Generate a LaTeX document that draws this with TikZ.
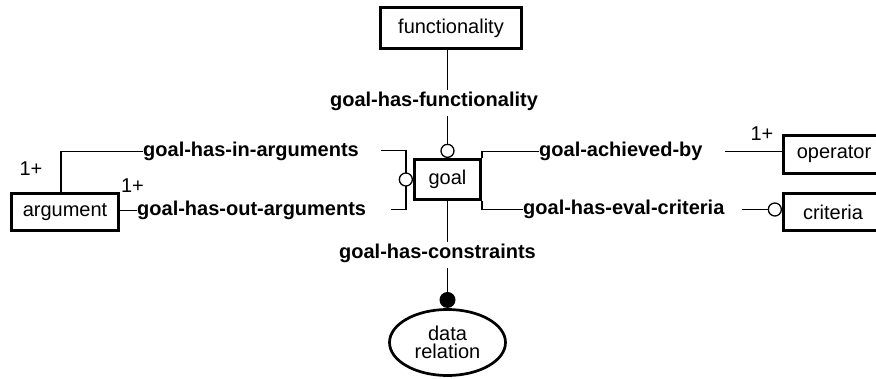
\documentclass[tikz,border=0pt]{standalone}
\usepackage{fontspec}
\setmainfont{Liberation Sans}
\usetikzlibrary{shapes.geometric,calc}
\begin{document}
\begin{tikzpicture}[x=1pt,y=-1pt,
  ent/.style={draw, line width=3pt, inner sep=0pt, font=\fontsize{20}{18}\selectfont},
  rel/.style={inner sep=0pt, font=\bfseries\fontsize{20}{24}\selectfont},
  card/.style={inner sep=0pt, font=\fontsize{20}{24}\selectfont},
  conn/.style={line width=1.3pt},
  opt/.style={draw, fill=white, line width=1.3pt, circle, minimum size=13pt, inner sep=0pt},
  req/.style={fill=black, circle, minimum size=16pt, inner sep=0pt}]
\useasboundingbox (0,0) rectangle (876,379);
\clip (0,0) rectangle (876,379);
% entities
\node[ent, minimum width=141, minimum height=41] (func) at (451,28) {functionality};
\node[ent, minimum width=66, minimum height=40] (goal) at (447.5,179.5) {goal};
\node[ent, minimum width=107, minimum height=37] (argument) at (65,212) {argument};
\node[ent, minimum width=101, minimum height=38] (operator) at (834,154.5) {operator};
\node[ent, minimum width=99, minimum height=37] (criteria) at (833,212) {criteria};
\node[ent, ellipse, line width=2.7pt, minimum width=116, minimum height=66, align=center] (data) at (447.5,342.5) {data\\relation};
% relation labels
\node[rel] (lfunc) at (434,101.7) {goal-has-functionality};
\node[rel] (lcons) at (437.5,253.3) {goal-has-constraints};
\node[rel, anchor=west] (lin) at (143,151.5) {goal-has-in-arguments};
\node[rel, anchor=west] (lout) at (137,210.5) {goal-has-out-arguments};
\node[rel, anchor=west] (lach) at (539,151.5) {goal-achieved-by};
\node[rel, anchor=west] (leval) at (523,209.5) {goal-has-eval-criteria};
% cardinalities
\node[card] (c1) at (31,168.5) {1+};
\node[card] (c2) at (132.5,185.5) {1+};
\node[card] (c3) at (762,134) {1+};
% free ends
\coordinate (bt) at (381,150.5);
\coordinate (bb) at (391,209.5);
\coordinate (opl) at (725,151.5);
\coordinate (crl) at (742,209.5);
% circles
\node[opt, anchor=south] (ctop) at (goal.north) {};
\node[req, anchor=south] (dot) at (data.north) {};
% connectors
\draw[conn] (func.south -| goal.north) -- ($(lfunc.north -| goal.north)+(0,-2)$);
\draw[conn] ($(lfunc.south -| goal.north)+(0,5)$) -- (ctop.north);
\draw[conn] (goal.south) -- ($(lcons.north -| goal.south)+(0,-2)$);
\draw[conn] ($(lcons.south -| goal.south)+(0,5)$) -- (dot.north);
\draw[conn] ([xshift=-4pt]argument.north) |- (lin.west);
\draw[conn] (argument.east |- lout) -- (lout.west);
\coordinate (cl) at ($(goal.west)+(-7,0)$);
\draw[conn] (bt) -- (bt -| cl) -- (bb -| cl) -- (bb);
\node[opt, anchor=east] (cleft) at (goal.west) {};
\draw[conn] (goal.north east) |- (lach.west);
\draw[conn] (opl) -- (opl -| operator.west);
\draw[conn] (goal.south east) |- (leval.west);
\node[opt, anchor=east] (ccrit) at (criteria.west |- crl) {};
\draw[conn] (crl) -- (ccrit.west);
\end{tikzpicture}
\end{document}
